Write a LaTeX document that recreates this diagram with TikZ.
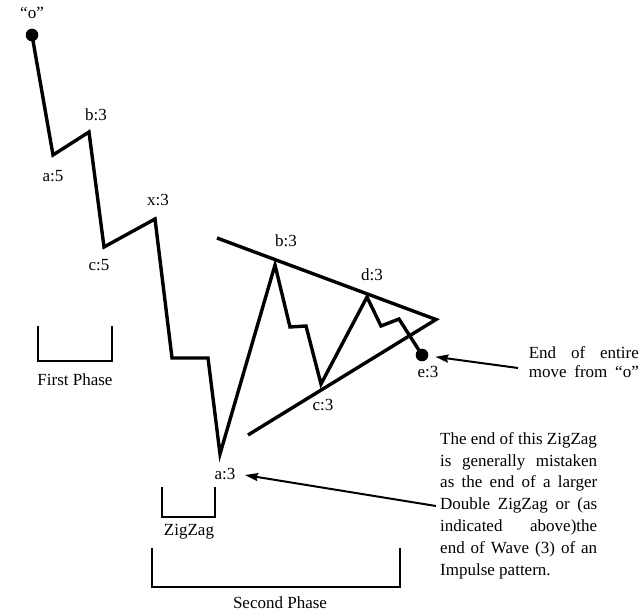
\documentclass[tikz,border=0pt]{standalone}
\usepackage{fontspec}
\setmainfont{Liberation Serif}
\usetikzlibrary{arrows.meta,positioning}

\tikzset{
  wave/.style={line width=3.4pt, line join=miter},
  trend/.style={line width=3.4pt, line join=miter},
  bracket/.style={line width=2.2pt},
  lbl/.style={anchor=base, inner sep=0pt, font=\fontsize{17}{20}\selectfont},
  note/.style={inner sep=0pt, align=left},
  pointer/.style={line width=2pt, -{Stealth[length=13pt,width=8pt,inset=1.5pt]}},
  dot/.style={circle, fill, inner sep=0pt, minimum size=12.6pt},
}
\newcommand{\jline}[2]{\makebox[#1][s]{#2}}

\begin{document}
\begin{tikzpicture}[x=1pt,y=-1pt]
    \useasboundingbox[fill=white] (0,0) rectangle (643,615);

    % first phase: double zigzag down from "o"
    \coordinate (o) at (32,35);
    \coordinate (a5) at (53,155);
    \coordinate (b3) at (89,132);
    \coordinate (c5) at (104,247);
    \coordinate (x3) at (155,219);
    \coordinate (p1) at (172,358);
    \coordinate (p2) at (208,358);
    \coordinate (A3) at (220,454);
    % triangle
    \coordinate (B3) at (275,265);
    \coordinate (q1) at (290,327);
    \coordinate (q2) at (306,326);
    \coordinate (C3) at (321,384);
    \coordinate (D3) at (367,297);
    \coordinate (r1) at (381,326);
    \coordinate (r2) at (399,319);
    \coordinate (E3) at (422,355);
    \coordinate (tl) at (217,238);
    \coordinate (apex) at (436,319.5);
    \coordinate (bl) at (248,435);

    \draw[trend] (tl) -- (apex) -- (bl);
    \draw[wave] (o) -- (a5) -- (b3) -- (c5) -- (x3) -- (p1) -- (p2) -- (A3)
        -- (B3) -- (q1) -- (q2) -- (C3) -- (D3) -- (r1) -- (r2) -- (E3);
    \node[dot] (odot) at (o) {};
    \node[dot] (edot) at (E3) {};

    % wave labels
    \node[lbl] (lo) at (32,19) {“o”};
    \node[lbl] (la5) at (53,182) {a:5};
    \node[lbl] (lb3) at (96,121) {b:3};
    \node[lbl] (lc5) at (99,270) {c:5};
    \node[lbl] (lx3) at (158,205) {x:3};
    \node[lbl] (lA3) at (225,479) {a:3};
    \node[lbl] (lB3) at (286,246) {b:3};
    \node[lbl] (lC3) at (323,410) {c:3};
    \node[lbl] (lD3) at (372,280) {d:3};
    \node[lbl] (lE3) at (428,377) {e:3};

    % phase brackets
    \draw[bracket] (38,326) -- (38,361) -- (112,361) -- (112,326);
    \node[lbl] (first) at (75,385) {First Phase};
    \draw[bracket] (162,487) -- (162,517) -- (215,517) -- (215,487);
    \node[lbl] (zz) at (189,535) {ZigZag};
    \draw[bracket] (152,548) -- (152,587) -- (400,587) -- (400,548);
    \node[lbl] (second) at (280,608) {Second Phase};

    % notes (base anchor sits on the last line)
    \node[note, anchor=base east, font=\fontsize{17}{18.5}\selectfont] (endnote) at (639,377)
        {\jline{110pt}{End of entire}\\\jline{110pt}{move from “o”}};
    \node[note, anchor=base west, font=\fontsize{17}{21.8}\selectfont] (zznote) at (440,575)
        {The end of this ZigZag\\
         \jline{157pt}{is generally mistaken}\\
         \jline{157pt}{as the end of a larger}\\
         \jline{157pt}{Double ZigZag or (as}\\
         \jline{157pt}{indicated above)the}\\
         \jline{157pt}{end of Wave (3) of an}\\
         Impulse pattern.};

    \coordinate (etail) at (518,368);
    \coordinate (atail) at (436,506);
    \draw[pointer, shorten >=7pt] (etail) -- (edot);
    \draw[pointer, shorten >=9.5pt] (atail) -- (lA3.east);
\end{tikzpicture}
\end{document}
